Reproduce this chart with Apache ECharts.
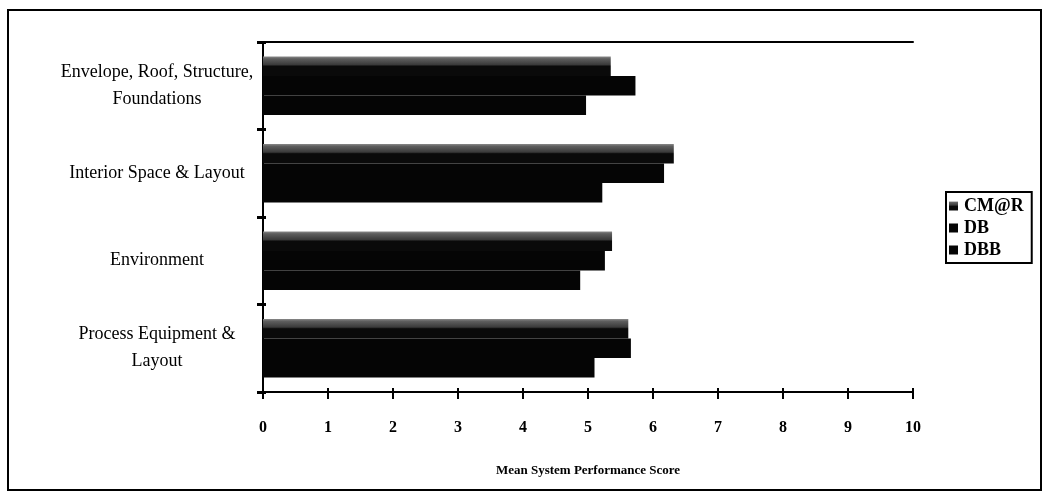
<!DOCTYPE html>
<html>
<head>
<meta charset="utf-8">
<script src="https://cdn.jsdelivr.net/npm/echarts@6/dist/echarts.min.js"></script>
<style>
  html, body { margin: 0; padding: 0; background: #fff; }
  #chart { width: 1049px; height: 502px; }
</style>
</head>
<body>
<div id="chart"></div>
<script>
// Building systems, top to bottom
const categories = [
  'Envelope, Roof, Structure,\nFoundations',
  'Interior Space & Layout',
  'Environment',
  'Process Equipment &\nLayout'
];
const seriesNames = ['CM@R', 'DB', 'DBB'];
// Mean system performance score per delivery method
const cmrScores = [5.35, 6.32, 5.37, 5.62];
const dbScores  = [5.73, 6.17, 5.26, 5.66];
const dbbScores = [4.97, 5.22, 4.88, 5.10];
const xTicks = [0, 1, 2, 3, 4, 5, 6, 7, 8, 9, 10];
const axisTitle = 'Mean System Performance Score';

const serif = "'Liberation Serif', 'Times New Roman', serif";

// CM@R bars: speckled grey top strip over a dark body
const cmrFill = new echarts.graphic.LinearGradient(0, 0, 0, 1, [
  { offset: 0, color: '#8a8a8a' },
  { offset: 0.12, color: '#5e5e5e' },
  { offset: 0.42, color: '#3a3a3a' },
  { offset: 0.5, color: '#0a0a0a' },
  { offset: 1, color: '#0a0a0a' }
]);

const chart = echarts.init(document.getElementById('chart'), null, { renderer: 'canvas' });

const valueAxisBase = {
  type: 'value',
  min: xTicks[0],
  max: xTicks[xTicks.length - 1],
  interval: 1,
  splitLine: { show: false }
};

chart.setOption({
  animation: false,
  backgroundColor: '#fff',
  grid: { left: 263, right: 136, top: 42, bottom: 110, containLabel: false },
  legend: {
    orient: 'vertical',
    left: 946,
    top: 192,
    padding: [5, 8, 4, 3],
    itemGap: 4,
    itemWidth: 9,
    itemHeight: 9,
    icon: 'rect',
    borderColor: '#000',
    borderWidth: 2,
    data: seriesNames,
    textStyle: { fontFamily: serif, fontWeight: 'bold', fontSize: 18, color: '#000', padding: [0, 0, 0, 1] }
  },
  xAxis: [
    Object.assign({}, valueAxisBase, {
      position: 'bottom',
      name: axisTitle,
      nameLocation: 'middle',
      nameGap: 72,
      nameTextStyle: { fontFamily: serif, fontWeight: 'bold', fontSize: 13, color: '#000' },
      axisLine: { show: true, lineStyle: { color: '#000', width: 2 } },
      axisTick: { show: true, inside: false, length: 7, lineStyle: { color: '#000', width: 2 } },
      axisLabel: {
        margin: 28,
        fontFamily: serif, fontWeight: 'bold', fontSize: 16, color: '#000',
        formatter: v => String(v)
      }
    }),
    // short inner stubs so the ticks cross the axis line
    Object.assign({}, valueAxisBase, {
      position: 'bottom',
      axisLine: { show: false },
      axisTick: { show: true, inside: true, length: 4, lineStyle: { color: '#000', width: 2 } },
      axisLabel: { show: false }
    }),
    // top edge of the plot area
    Object.assign({}, valueAxisBase, {
      position: 'top',
      axisLine: { show: true, lineStyle: { color: '#000', width: 2 } },
      axisTick: { show: false },
      axisLabel: { show: false }
    })
  ],
  yAxis: [
    {
      type: 'category',
      data: categories,
      inverse: true,
      position: 'left',
      axisLine: { show: true, lineStyle: { color: '#000', width: 2 } },
      axisTick: { show: true, inside: false, length: 6, lineStyle: { color: '#000', width: 3 } },
      axisLabel: {
        align: 'center',
        margin: 106,
        lineHeight: 27,
        fontFamily: serif, fontWeight: 'normal', fontSize: 18, color: '#000'
      },
      splitLine: { show: false }
    },
    {
      type: 'category',
      data: categories,
      inverse: true,
      position: 'left',
      axisLine: { show: false },
      axisTick: { show: true, inside: true, length: 3, lineStyle: { color: '#000', width: 3 } },
      axisLabel: { show: false },
      splitLine: { show: false }
    }
  ],
  series: [
    {
      name: seriesNames[0], type: 'bar', data: cmrScores,
      xAxisIndex: 0, yAxisIndex: 0,
      barGap: '0%', barCategoryGap: '33%',
      itemStyle: { color: cmrFill }
    },
    {
      name: seriesNames[1], type: 'bar', data: dbScores,
      xAxisIndex: 0, yAxisIndex: 0,
      barGap: '0%', barCategoryGap: '33%',
      itemStyle: { color: '#050505' }
    },
    {
      name: seriesNames[2], type: 'bar', data: dbbScores,
      xAxisIndex: 0, yAxisIndex: 0,
      barGap: '0%', barCategoryGap: '33%',
      itemStyle: { color: '#050505' }
    }
  ],
  graphic: [
    {
      type: 'rect',
      silent: true,
      shape: { x: 8, y: 10, width: 1033, height: 480 },
      style: { fill: 'none', stroke: '#000', lineWidth: 2 }
    }
  ]
});
</script>
</body>
</html>
